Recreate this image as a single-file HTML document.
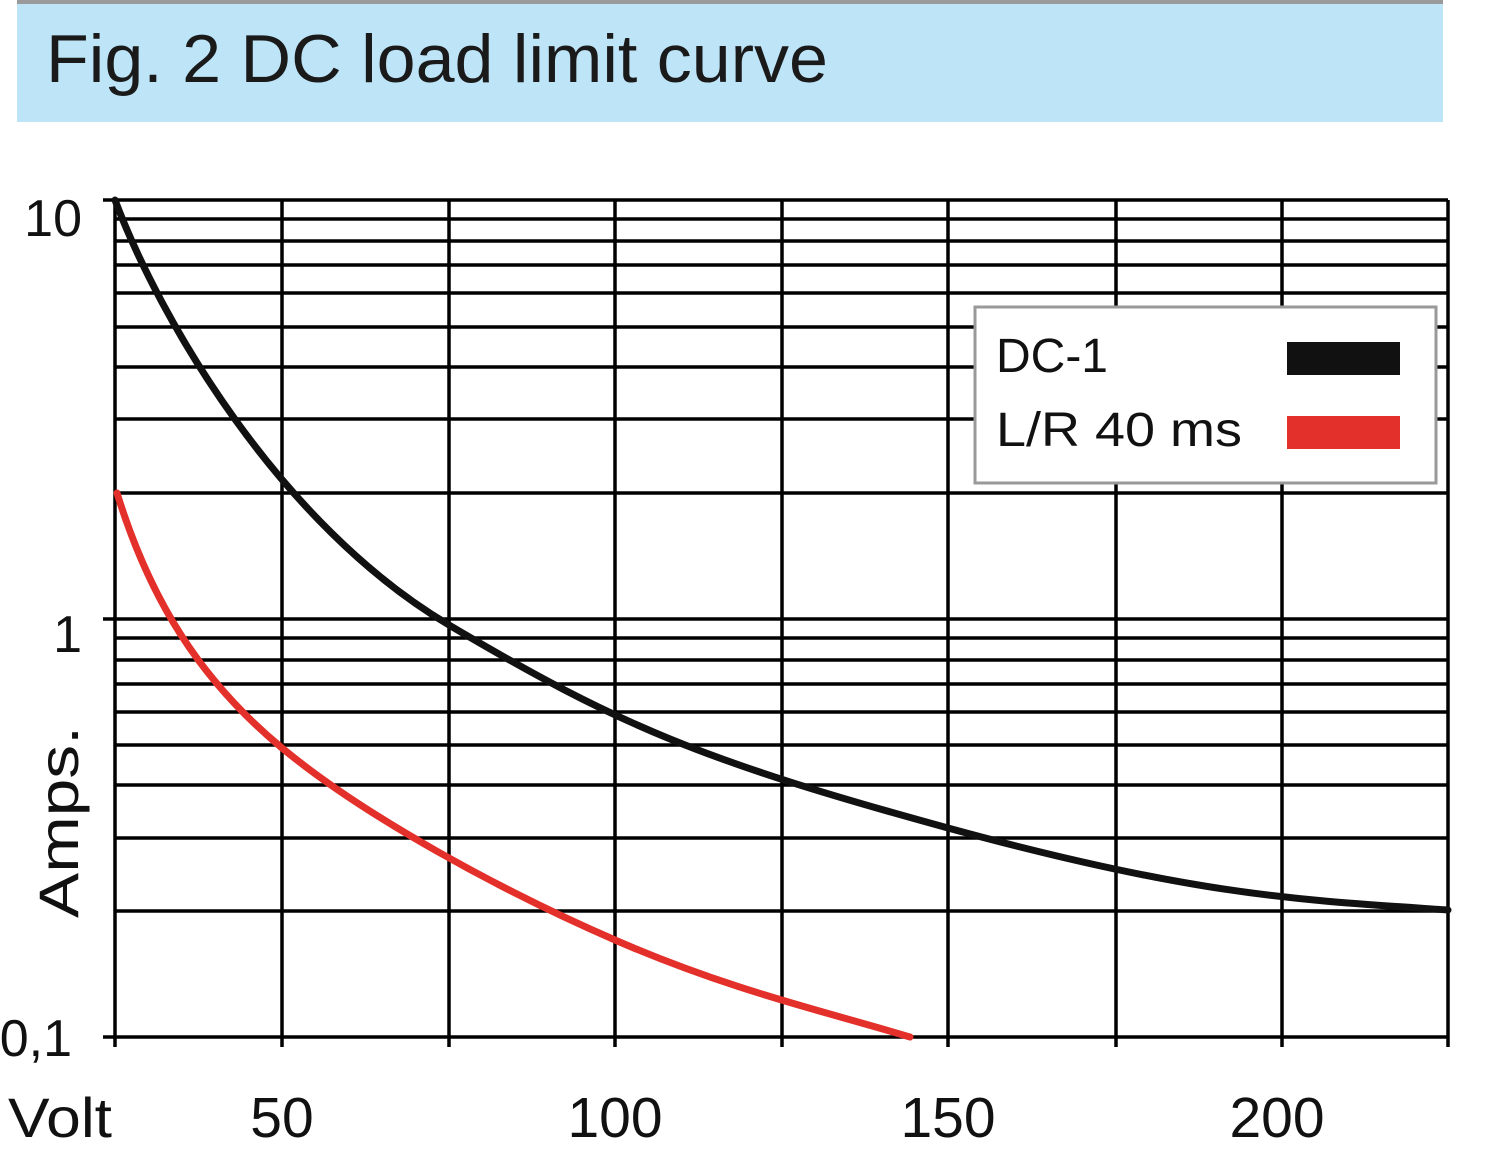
<!DOCTYPE html>
<html><head><meta charset="utf-8"><style>
body{margin:0;background:#fff;}
svg{display:block;font-family:"Liberation Sans",sans-serif;}
</style></head><body>
<svg width="1500" height="1169" viewBox="0 0 1500 1169" xmlns="http://www.w3.org/2000/svg">
<rect x="17" y="0" width="1426" height="122" fill="#bde4f7"/>
<rect x="17" y="0" width="1426" height="4" fill="#9a9a9a"/>
<text x="46" y="82" font-size="68" fill="#1a1a1a" textLength="782" lengthAdjust="spacingAndGlyphs">Fig. 2 DC load limit curve</text>
<g stroke="#000" stroke-width="3.5" fill="none">
<line x1="115" y1="200" x2="1448" y2="200"/>
<line x1="115" y1="1037" x2="1448" y2="1037"/>
<line x1="115" y1="619" x2="1448" y2="619"/>
<line x1="115" y1="493" x2="1448" y2="493"/>
<line x1="115" y1="419" x2="1448" y2="419"/>
<line x1="115" y1="367" x2="1448" y2="367"/>
<line x1="115" y1="327" x2="1448" y2="327"/>
<line x1="115" y1="293" x2="1448" y2="293"/>
<line x1="115" y1="265" x2="1448" y2="265"/>
<line x1="115" y1="241" x2="1448" y2="241"/>
<line x1="115" y1="219" x2="1448" y2="219"/>
<line x1="115" y1="911" x2="1448" y2="911"/>
<line x1="115" y1="838" x2="1448" y2="838"/>
<line x1="115" y1="785" x2="1448" y2="785"/>
<line x1="115" y1="745" x2="1448" y2="745"/>
<line x1="115" y1="712" x2="1448" y2="712"/>
<line x1="115" y1="684" x2="1448" y2="684"/>
<line x1="115" y1="660" x2="1448" y2="660"/>
<line x1="115" y1="638" x2="1448" y2="638"/>
<line x1="115" y1="200" x2="115" y2="1047"/>
<line x1="282" y1="200" x2="282" y2="1047"/>
<line x1="449" y1="200" x2="449" y2="1047"/>
<line x1="615" y1="200" x2="615" y2="1047"/>
<line x1="782" y1="200" x2="782" y2="1047"/>
<line x1="948" y1="200" x2="948" y2="1047"/>
<line x1="1116" y1="200" x2="1116" y2="1047"/>
<line x1="1282" y1="200" x2="1282" y2="1047"/>
<line x1="1448" y1="200" x2="1448" y2="1047"/>
<line x1="103" y1="200" x2="115" y2="200"/>
<line x1="103" y1="619" x2="115" y2="619"/>
<line x1="103" y1="1037" x2="115" y2="1037"/>
</g>
<path fill="none" stroke="#111" stroke-width="7" stroke-linecap="round" d="M115,200 C160,320 280,525 449,625 S700,760 948,828 S1300,900 1448,910"/>
<path fill="none" stroke="#e3302a" stroke-width="7" stroke-linecap="round" d="M117,493 C150,600 200,680 282,748 S500,890 615,940 S820,1010 910,1037"/>
<rect x="975" y="307" width="461" height="176" fill="#fff" stroke="#999" stroke-width="3"/>
<text x="996" y="372" font-size="48" fill="#111" textLength="112" lengthAdjust="spacingAndGlyphs">DC-1</text>
<text x="996" y="446" font-size="48" fill="#111" textLength="246" lengthAdjust="spacingAndGlyphs">L/R 40 ms</text>
<rect x="1287" y="342" width="113" height="33" fill="#111"/>
<rect x="1287" y="416" width="113" height="33" fill="#e3302a"/>
<g font-size="52" fill="#111">
<text x="82" y="236" text-anchor="end">10</text>
<text x="82" y="652" text-anchor="end">1</text>
<text x="72" y="1056" text-anchor="end">0,1</text>
<text x="8" y="1137" font-size="56" textLength="104" lengthAdjust="spacingAndGlyphs">Volt</text>
<g text-anchor="middle" font-size="57">
<text x="282" y="1137">50</text>
<text x="615" y="1137">100</text>
<text x="948" y="1137">150</text>
<text x="1277" y="1137">200</text>
</g>
<text transform="translate(78,822) rotate(-90)" text-anchor="middle" font-size="56" textLength="192" lengthAdjust="spacingAndGlyphs">Amps.</text>
</g>
</svg>
</body></html>
